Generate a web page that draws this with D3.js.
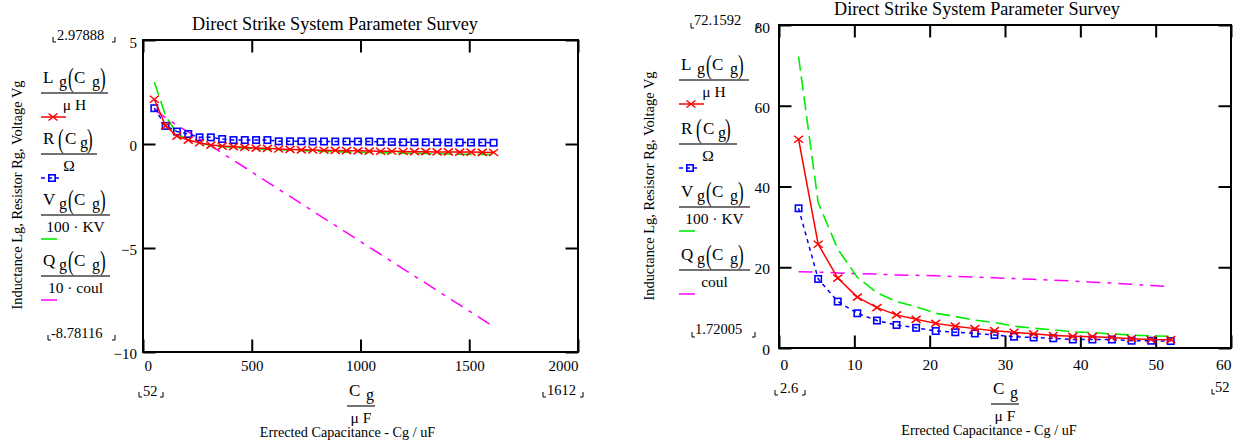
<!DOCTYPE html>
<html><head><meta charset="utf-8">
<script src="https://cdn.jsdelivr.net/npm/d3@7"></script>
<style>
body{margin:0;background:#fff}
svg{display:block}
text{font-family:"Liberation Serif","Times New Roman",serif;fill:#000}
</style>
</head><body>
<svg id="c" width="1233" height="443"></svg>
<script>
// ---------------- data ----------------
const leftCg = [52,104,156,208,260,312,364,416,468,520,572,624,676,728,780,832,884,936,988,1040,1092,1144,1196,1248,1300,1352,1404,1456,1508,1560,1612];
const leftL = [2.15,0.87,0.38,0.19,0.06,-0.05,-0.10,-0.13,-0.16,-0.20,-0.21,-0.24,-0.26,-0.28,-0.29,-0.30,-0.31,-0.32,-0.33,-0.34,-0.35,-0.35,-0.36,-0.37,-0.37,-0.38,-0.38,-0.39,-0.39,-0.40,-0.41];
const leftR = [1.72,0.87,0.60,0.48,0.32,0.32,0.24,0.19,0.19,0.19,0.19,0.13,0.13,0.13,0.12,0.12,0.12,0.12,0.12,0.12,0.10,0.10,0.08,0.08,0.08,0.08,0.07,0.07,0.07,0.07,0.06];
const leftV = [2.98,1.35,0.50,0.20,0.05,-0.07,-0.12,-0.16,-0.20,-0.23,-0.26,-0.28,-0.30,-0.32,-0.34,-0.36,-0.37,-0.39,-0.40,-0.41,-0.42,-0.43,-0.44,-0.45,-0.46,-0.47,-0.48,-0.49,-0.50,-0.50,-0.51];
const leftQ = [1.65,1.27,0.90,0.58,0.24,-0.09,-0.44,-0.79,-1.13,-1.48,-1.83,-2.18,-2.52,-2.87,-3.22,-3.57,-3.91,-4.26,-4.61,-4.96,-5.30,-5.65,-6.00,-6.35,-6.69,-7.04,-7.39,-7.74,-8.08,-8.43,-8.78];

const rightCg = [2.6,5.2,7.8,10.4,13,15.6,18.2,20.8,23.4,26,28.6,31.2,33.8,36.4,39,41.6,44.2,46.8,49.4,52];
const rightL = [51.7,25.7,17.3,12.6,10.0,8.2,7.1,6.1,5.4,4.8,4.3,3.9,3.5,3.1,2.9,2.8,2.6,2.3,2.1,2.06];
const rightR = [34.6,17.1,11.5,8.6,6.8,5.7,5.0,4.2,3.9,3.6,3.2,2.8,2.6,2.4,2.1,2.1,2.1,1.8,1.8,1.72];
const rightV = [72.16,36.0,24.5,17.5,13.7,11.5,10.2,8.6,7.8,6.9,6.3,5.4,4.9,4.5,4.0,3.8,3.5,3.2,3.0,2.9];
const rightQ = [18.9,18.8,18.6,18.4,18.3,18.1,18.0,17.9,17.7,17.6,17.4,17.2,17.0,16.8,16.6,16.3,16.1,15.8,15.5,15.2];

const leftXTicks = [0,500,1000,1500,2000];
const leftYTicks = [-10,-5,0,5];
const rightXTicks = [0,10,20,30,40,50,60];
const rightYTicks = [0,20,40,60,80];

const titleText = "Direct Strike System Parameter Survey";
const yTitleText = "Inductance Lg, Resistor Rg, Voltage Vg";
const xTitleText = "Errected Capacitance - Cg / uF";
const legendSymbols = ["L","R","V","Q"];
const leftDenoms = ["\u03bc H","\u03a9","100 \u00b7 KV","10 \u00b7 coul"];
const rightDenoms = ["\u03bc H","\u03a9","100 \u00b7 KV","coul"];
const leftRangeLabels = ["2.97888","-8.78116","52","1612"];
const rightRangeLabels = ["72.1592","1.72005","2.6","52"];

// ---------------- drawing ----------------
const svg = d3.select("#c");
const SERIF = '"Liberation Serif","Times New Roman",serif';

const styles = [
  {color:"#ff0000", dash:null, marker:"x", width:1.5, sampleLen:25, mk:12},
  {color:"#0000ff", dash:"4,4", marker:"sq", width:1.5, sampleLen:21, mk:11},
  {color:"#00ee00", dash:"14,6", marker:null, width:1.6, sampleLen:16},
  {color:"#ff00ff", dash:"14,7,4,7", marker:null, width:1.5, sampleLen:16}
];

function drawMarker(g, type, cx, cy, color) {
  if (type === "x") {
    g.append("path").attr("d",`M${cx-4.5},${cy-3.5}L${cx+4.5},${cy+3.5}M${cx-4.5},${cy+3.5}L${cx+4.5},${cy-3.5}`)
      .attr("stroke",color).attr("stroke-width",1.5).attr("fill","none");
  } else if (type === "sq") {
    g.append("rect").attr("x",cx-3.2).attr("y",cy-3.2).attr("width",6.4).attr("height",6.4)
      .attr("stroke",color).attr("stroke-width",1.6).attr("fill","none");
  }
}

function bracketLabel(g, lab, text) {
  g.append("text").attr("x",lab.x).attr("y",lab.y).attr("font-size",14.5).text(text);
  g.append("path").attr("d",`M${lab.bl},${lab.by-5}V${lab.by}H${lab.bl+3}M${lab.br-3},${lab.by}H${lab.br}V${lab.by-5}`)
    .attr("stroke","#000").attr("stroke-width",1).attr("fill","none");
}

function drawChart(cfg) {
  const g = svg.append("g");
  const x = d3.scaleLinear().domain(cfg.xDomain).range([cfg.x0, cfg.x1]);
  const y = d3.scaleLinear().domain(cfg.yDomain).range([cfg.y1, cfg.y0]);

  // title
  g.append("text").attr("x",cfg.titleX).attr("y",cfg.titleY).attr("text-anchor","middle")
    .attr("font-size",18.2).text(titleText);

  // axes (ticks inward on all four sides)
  const fmt = d3.format("d");
  const bottom = g.append("g").attr("transform",`translate(0,${cfg.y1})`)
    .call(d3.axisBottom(x).tickValues(cfg.xTicks).tickSize(-cfg.tick).tickPadding(cfg.xPad).tickFormat(fmt));
  const top = g.append("g").attr("transform",`translate(0,${cfg.y0})`)
    .call(d3.axisTop(x).tickValues(cfg.xTicks).tickSize(-cfg.tick).tickFormat(""));
  const left = g.append("g").attr("transform",`translate(${cfg.x0},0)`)
    .call(d3.axisLeft(y).tickValues(cfg.yTicks).tickSize(-cfg.tick).tickPadding(cfg.yPad).tickFormat(fmt));
  const right = g.append("g").attr("transform",`translate(${cfg.x1},0)`)
    .call(d3.axisRight(y).tickValues(cfg.yTicks).tickSize(-cfg.tick).tickFormat(""));
  [bottom, top, left, right].forEach(a => {
    a.select(".domain").remove();
    a.selectAll(".tick line").attr("stroke","#000").attr("stroke-width",2);
    a.selectAll(".tick text").attr("font-family",SERIF).attr("font-size",cfg.tickFont).attr("fill","#000");
  });
  const bt = bottom.selectAll(".tick text");
  const nb = bt.size();
  bt.filter((d,i) => i === 0).attr("text-anchor","start").attr("x",1);
  bt.filter((d,i) => i === nb-1).attr("text-anchor","end").attr("x",0);
  const lt = left.selectAll(".tick text");
  const nl = lt.size();
  lt.attr("transform","translate(0,1.5)");
  lt.filter((d,i) => i === nl-1).attr("transform","translate(0,3)");

  // frame
  g.append("rect").attr("x",cfg.x0).attr("y",cfg.y0).attr("width",cfg.x1-cfg.x0).attr("height",cfg.y1-cfg.y0)
    .attr("fill","none").attr("stroke","#000").attr("stroke-width",2);

  // series
  const line = d3.line().x(d => x(d[0])).y(d => y(d[1]));
  const order = [3,2,1,0];
  order.forEach(si => {
    const st = styles[si];
    const pts = cfg.xs.map((v,i) => [v, cfg.series[si][i]]);
    g.append("path").attr("d",line(pts)).attr("fill","none").attr("stroke",st.color)
      .attr("stroke-width",st.width).attr("stroke-dasharray",st.dash);
    if (st.marker) pts.forEach(p => drawMarker(g, st.marker, x(p[0]), y(p[1]), st.color));
  });

  // legend
  cfg.legendLines.forEach((ly, i) => {
    const st = styles[i];
    const lx = cfg.legendX;
    const lg = g.append("g");
    const sym = legendSymbols[i];
    const hasSub = sym !== "R";
    lg.append("text").attr("x",lx+2).attr("y",ly-10).attr("font-size",17).text(sym);
    const px = hasSub ? lx+27 : lx+17;
    if (hasSub) lg.append("text").attr("x",lx+18).attr("y",ly-6).attr("font-size",16).text("g");
    const cx = hasSub ? lx+33 : lx+24;
    const gx = hasSub ? lx+51 : lx+39;
    const rp = hasSub ? lx+59 : lx+46;
    lg.append("text").attr("transform",`translate(${px},${ly-6.5}) scale(1,1.6)`).attr("font-size",17).text("(");
    lg.append("text").attr("x",cx).attr("y",ly-10).attr("font-size",17).text("C");
    lg.append("text").attr("x",gx).attr("y",ly-6).attr("font-size",16).text("g");
    lg.append("text").attr("transform",`translate(${rp},${ly-6.5}) scale(1,1.6)`).attr("font-size",17).text(")");
    const w = cfg.fracW[i];
    lg.append("line").attr("x1",lx).attr("x2",lx+w).attr("y1",ly).attr("y2",ly)
      .attr("stroke","#444").attr("stroke-width",1.5);
    lg.append("text").attr("x",lx+w/2).attr("y",ly+17).attr("text-anchor","middle").attr("font-size",15.5).text(cfg.denoms[i]);
    const sy = ly+24;
    lg.append("line").attr("x1",lx).attr("x2",lx+st.sampleLen).attr("y1",sy).attr("y2",sy)
      .attr("stroke",st.color).attr("stroke-width",st.width)
      .attr("stroke-dasharray", st.marker === "sq" ? "4,3" : null);
    if (st.marker) drawMarker(lg, st.marker, lx+st.mk, sy, st.color);
  });

  // y axis title
  g.append("text").attr("transform",`translate(${cfg.yTitleX},${cfg.yTitleY}) rotate(-90)`)
    .attr("text-anchor","middle").attr("font-size",14.4).text(yTitleText);

  // x label fraction
  const fx = cfg.fracX, fy = cfg.fracY;
  g.append("text").attr("x",fx+2).attr("y",fy-10).attr("font-size",17).text("C");
  g.append("text").attr("x",fx+19).attr("y",fy-6).attr("font-size",16).text("g");
  g.append("line").attr("x1",fx).attr("x2",fx+28).attr("y1",fy).attr("y2",fy).attr("stroke","#444").attr("stroke-width",1.5);
  g.append("text").attr("x",fx+14).attr("y",fy+17).attr("text-anchor","middle").attr("font-size",15.5).text("\u03bc F");
  g.append("text").attr("x",cfg.xTitleX).attr("y",fy+31).attr("text-anchor","middle").attr("font-size",14.2).text(xTitleText);

  // range labels
  cfg.ranges.forEach((lab, i) => bracketLabel(g, lab, cfg.rangeText[i]));
}

drawChart({
  xs: leftCg, series: [leftL, leftR, leftV, leftQ],
  x0:143, x1:578, y0:40, y1:352, xDomain:[0,2000], yDomain:[-10,5],
  xTicks: leftXTicks, yTicks: leftYTicks, tick:12.5, xPad:8.5, yPad:6, tickFont:15,
  titleX:335, titleY:30,
  legendX:41, legendLines:[93,154,215,276], fracW:[67,56,69,69], denoms:leftDenoms,
  yTitleX:22, yTitleY:195,
  fracX:347, fracY:406, xTitleX:347.5,
  rangeText:leftRangeLabels,
  ranges:[
    {x:57, y:40, bl:53, br:115, by:42},
    {x:51, y:338, bl:48, br:115, by:340},
    {x:143, y:396, bl:139, br:163, by:397},
    {x:547, y:395, bl:543, br:583, by:397}
  ]
});

drawChart({
  xs: rightCg, series: [rightL, rightR, rightV, rightQ],
  x0:779, x1:1231, y0:25, y1:348, xDomain:[0,60], yDomain:[0,80],
  xTicks: rightXTicks, yTicks: rightYTicks, tick:12.5, xPad:10.5, yPad:9, tickFont:15.5,
  titleX:977, titleY:15,
  legendX:679, legendLines:[80,144,207,270], fracW:[70,58,71,71], denoms:rightDenoms,
  yTitleX:654, yTitleY:186,
  fracX:991, fracY:404, xTitleX:989,
  rangeText:rightRangeLabels,
  ranges:[
    {x:694, y:25, bl:691, br:758, by:28},
    {x:695, y:334, bl:692, br:755, by:337},
    {x:780, y:393, bl:775, br:805, by:395},
    {x:1215, y:392, bl:1212, br:1240, by:394}
  ]
});
</script>
</body></html>
